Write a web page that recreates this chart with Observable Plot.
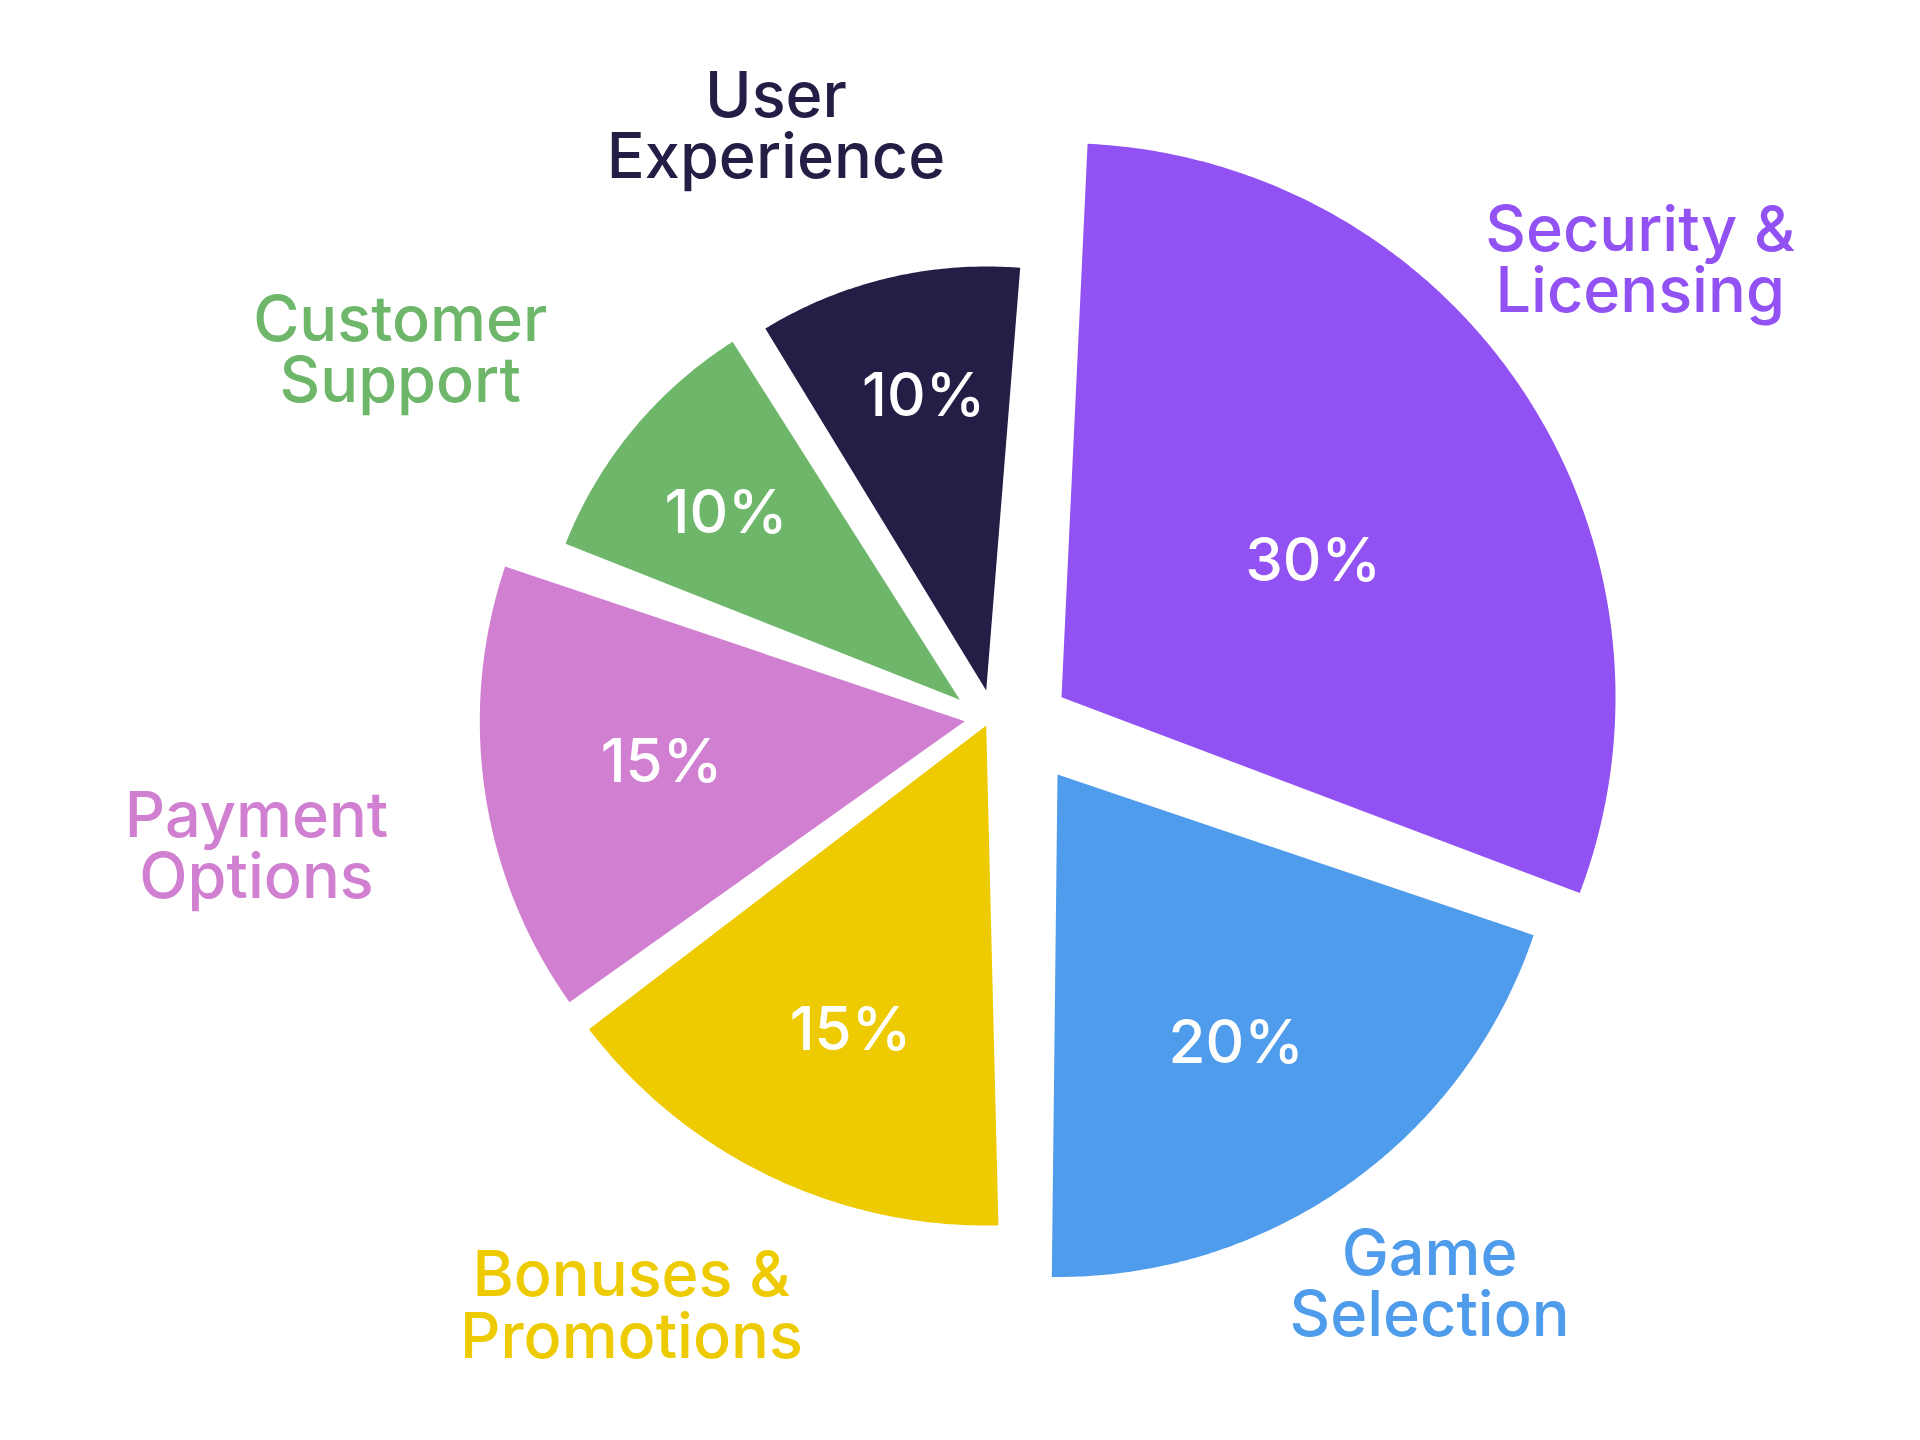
<!DOCTYPE html>
<html>
<head>
<meta charset="utf-8">
<script src="https://cdn.jsdelivr.net/npm/d3@7"></script>
<script src="https://cdn.jsdelivr.net/npm/@observablehq/plot@0.6"></script>
<style>
  html, body { margin: 0; padding: 0; background: #ffffff; }
  #chart svg { display: block; }
</style>
</head>
<body>
<div id="chart"></div>
<script>
// ---- data ----
const categories = ["Security & Licensing", "Game Selection", "Bonuses & Promotions", "Payment Options", "Customer Support", "User Experience"];
const values = [30, 20, 15, 15, 10, 10];
const labelLines = ["Security &\nLicensing", "Game\nSelection", "Bonuses &\nPromotions", "Payment\nOptions", "Customer\nSupport", "User\nExperience"];
const colors = ["#9251F2", "#4E9CEB", "#EDCB00", "#D07FD1", "#6EB76A", "#241E46"];

// ---- layout (slice geometry styling) ----
const center = [989.5, 717];
const pulls = [[71.5, -20.3], [67.5, 57], [-3.8, 8], [-25.2, 3.7], [-30.2, -17.7], [-3.8, -27]];
const tilts = [2.7, 0.65, -1.4, 0.6, 3.6, 4.6];
const radii = [554, 502.5, 500, 485, 424, 424];
const pctPlace = [[61.1, 287.4], [146.2, 321], [204.2, 331], [262.7, 305.8], [308.9, 300.3], [348.1, 303.5]];
const namePlace = [[52.85, 726], [143.8, 630], [211.5, 679], [260.1, 719], [302.1, 660.5], [339.6, 603]];

const W = 1920, H = 1440;
const total = d3.sum(values);
const rad = a => a * Math.PI / 180;
const polar = (v, a, r) => [v[0] + r * Math.sin(rad(a)), v[1] - r * Math.cos(rad(a))];

const wedgePts = [];
const pctRows = [];
const nameRows = [];
let cum = 0;
categories.forEach((name, i) => {
  const start = 360 * cum / total + tilts[i];
  const end = start + 360 * values[i] / total;
  cum += values[i];
  const v = [center[0] + pulls[i][0], center[1] + pulls[i][1]];
  wedgePts.push({name, x: v[0], y: v[1]});
  const steps = Math.ceil((end - start) / 0.5);
  for (let k = 0; k <= steps; k++) {
    const a = start + (end - start) * k / steps;
    const p = polar(v, a, radii[i]);
    wedgePts.push({name, x: p[0], y: p[1]});
  }
  wedgePts.push({name, x: v[0], y: v[1]});
  const pp = polar(v, pctPlace[i][0], pctPlace[i][1]);
  pctRows.push({name, x: pp[0], y: pp[1], text: Math.round(100 * values[i] / total) + "%"});
  const np = polar(v, namePlace[i][0], namePlace[i][1]);
  nameRows.push({name, x: np[0], y: np[1], text: labelLines[i]});
});

const chart = Plot.plot({
  width: W,
  height: H,
  margin: 0,
  x: {domain: [0, W], axis: null},
  y: {domain: [H, 0], axis: null},
  color: {domain: categories, range: colors},
  style: {fontFamily: "Inter, 'Noto Sans', sans-serif", background: "#ffffff"},
  marks: [
    Plot.line(wedgePts, {x: "x", y: "y", z: "name", fill: "name", stroke: "none", curve: "linear"}),
    Plot.text(pctRows, {x: "x", y: "y", text: "text", fill: "white", fontSize: 60, fontWeight: 500, dy: 3}),
    Plot.text(nameRows, {x: "x", y: "y", text: "text", fill: "name", fontSize: 63, fontWeight: 500, lineHeight: 0.97, dy: 3})
  ]
});
document.getElementById("chart").appendChild(chart);
</script>
</body>
</html>
